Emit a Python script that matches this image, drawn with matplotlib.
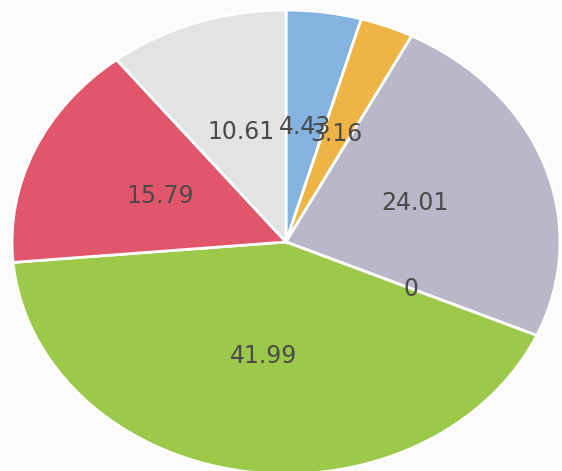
import matplotlib
matplotlib.use("Agg")
import matplotlib.pyplot as plt

labels = ["4.43", "3.16", "24.01", "0", "41.99", "15.79", "10.61"]
values = [4.43, 3.16, 24.01, 0, 41.99, 15.79, 10.61]
colors = ["#84b3e0", "#eeb545", "#bab7c9", "#bab7c9", "#9cc94a", "#e2566b", "#e4e3e3"]

W, H = 562, 471
cx, cy = 286, 242
rx, ry = 274, 232

fig = plt.figure(figsize=(W / 100, H / 100), dpi=100)
fig.patch.set_facecolor("#fbfbfb")
ax = fig.add_axes([0, 0, 1, 1])
ax.set_facecolor("#fbfbfb")

wedges, texts = ax.pie(
    values,
    labels=labels,
    colors=colors,
    startangle=90,
    counterclock=False,
    labeldistance=0.5,
    wedgeprops=dict(edgecolor="white", linewidth=2),
    textprops=dict(fontsize=17, color="#4a4a4a"),
)
for t in texts:
    t.set_ha("center")
    t.set_va("center")

ax.set_aspect("auto")
ax.set_xlim(-cx / rx, (W - cx) / rx)
ax.set_ylim(-(H - cy) / ry, cy / ry)
ax.axis("off")

fig.savefig("out.png", dpi=100, facecolor=fig.get_facecolor())
